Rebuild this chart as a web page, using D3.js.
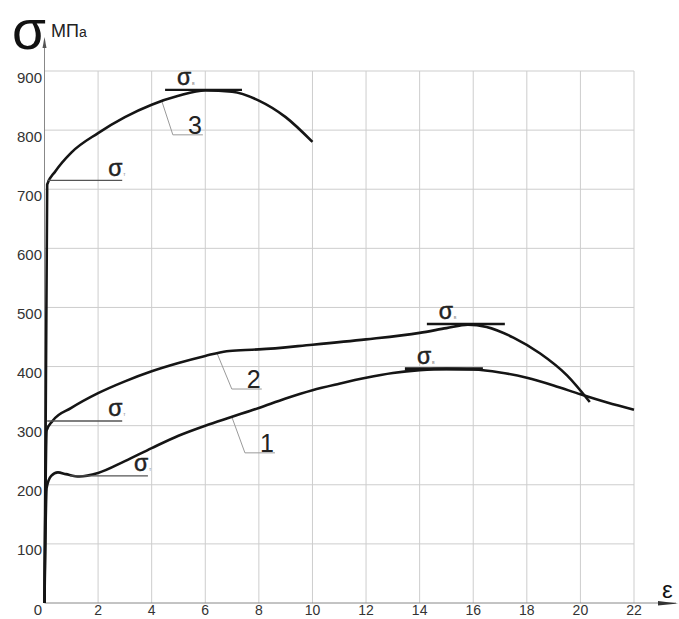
<!DOCTYPE html>
<html>
<head>
<meta charset="utf-8">
<script src="https://cdn.jsdelivr.net/npm/d3@7"></script>
<style>
  body { margin: 0; background: #fff; }
  svg { display: block; font-family: Arial, "Liberation Sans", sans-serif; }
</style>
</head>
<body>
<svg width="679" height="619"></svg>
<script>
// strain, % / stress, MPa
const curve1 = [[0,0],[0.08,195],[0.25,215],[0.5,221],[0.8,218],[1.3,214],[2,220],[3,240],[4,262],[5,283],[6,300],[7,315],[8,330],[9,346],[10,360],[11,371],[12,381],[13,389],[14,394],[15,396],[16,395],[17,390],[18,381],[19,368],[20,353],[21,339],[22,327]];
const curve2 = [[0,0],[0.08,292],[0.3,308],[1,330],[2,355],[3,375],[4,392],[5,406],[6,418],[6.8,426],[7.5,428],[8,429],[10,437],[12,446],[14,457],[15,465],[15.8,471],[16.5,467],[17.5,449],[18.5,422],[19.5,385],[20.35,340]];
const curve3 = [[0,0],[0.1,708],[0.4,730],[1,762],[2,795],[3,822],[4,843],[5,858],[6,867],[7,865],[8,850],[9,822],[10,780]];

const xTicks = [2,4,6,8,10,12,14,16,18,20,22];
const yTicks = [0,100,200,300,400,500,600,700,800,900];

// yield level (sigma_t) and ultimate level (sigma_v) marks: [sigma, eps from, eps to]
const yieldMarks = [[715,0.1,2.9],[308,0.1,2.9],[215,0.95,3.86]];
const ultimateMarks = [[868,4.5,7.37],[472,14.27,17.18],[396,13.45,16.36]];
// curve number leaders: name, eps on curve, elbow eps, elbow sigma, end eps
const curveLabels = [['3',4.38,4.79,792,5.91],['2',6.44,6.99,362,8.11],['1',6.99,7.48,254,8.6]];

const svg = d3.select('svg');
const x = d3.scaleLinear().domain([0,22]).range([44.5,634]);
const y = d3.scaleLinear().domain([0,900]).range([603,71]);

// grid
svg.append('g').selectAll('line').data(xTicks).join('line')
  .attr('x1', d => x(d)).attr('x2', d => x(d))
  .attr('y1', y(0)).attr('y2', y(900))
  .attr('stroke', '#cdcdcd').attr('stroke-width', 1);
svg.append('g').selectAll('line').data(yTicks.slice(1)).join('line')
  .attr('x1', x(0)).attr('x2', x(22))
  .attr('y1', d => y(d)).attr('y2', d => y(d))
  .attr('stroke', '#cdcdcd').attr('stroke-width', 1);

// axes with arrows
svg.append('line').attr('x1', x(0)).attr('x2', 676).attr('y1', y(0)).attr('y2', y(0))
  .attr('stroke', '#888').attr('stroke-width', 1);
svg.append('path').attr('d', 'M658,601 L678,603.5 L658,605.5 Z').attr('fill', '#333');
svg.append('line').attr('x1', x(0)).attr('x2', x(0)).attr('y1', y(0)).attr('y2', 40)
  .attr('stroke', '#888').attr('stroke-width', 1);
svg.append('path').attr('d', `M${x(0)-2},48 L${x(0)},37 L${x(0)+2},48 Z`).attr('fill', '#555');

// tick labels
svg.append('g').selectAll('text').data(yTicks).join('text')
  .attr('x', 42).attr('y', d => y(d) + 11.5)
  .attr('text-anchor', 'end').attr('font-size', 15).attr('fill', '#333')
  .text(d => d);
svg.append('g').selectAll('text').data(xTicks).join('text')
  .attr('x', d => x(d)).attr('y', 615)
  .attr('text-anchor', 'middle').attr('font-size', 14).attr('fill', '#333')
  .text(d => d);

// axis titles
svg.append('text').attr('x', 12).attr('y', 49).attr('font-size', 55).attr('fill', '#111').text('σ');
const unit = svg.append('text').attr('x', 51).attr('y', 37).attr('font-size', 18).attr('fill', '#222');
unit.append('tspan').text('МП');
unit.append('tspan').attr('font-size', 14).text('а');
svg.append('text').attr('x', 662).attr('y', 598).attr('font-size', 24).attr('fill', '#111').text('ε');

// curve number leaders
const line = d3.line().x(d => x(d[0])).y(d => y(d[1])).curve(d3.curveMonotoneX);
const curves = { '1': curve1, '2': curve2, '3': curve3 };
const sigmaAt = (c, e) => {
  const i = d3.bisector(d => d[0]).left(c, e);
  const a = c[i - 1], b = c[i];
  return a[1] + (b[1] - a[1]) * (e - a[0]) / (b[0] - a[0]);
};
curveLabels.forEach(([name, e0, e1, s1, e2]) => {
  const s0 = sigmaAt(curves[name], e0);
  svg.append('path')
    .attr('d', `M${x(e0)},${y(s0)} L${x(e1)},${y(s1)} L${x(e2)},${y(s1)}`)
    .attr('fill', 'none').attr('stroke', '#9a9a9a').attr('stroke-width', 1);
  svg.append('text').attr('x', x(e2) - 8).attr('y', y(s1) - 1)
    .attr('text-anchor', 'middle').attr('font-size', 25).attr('fill', '#222').text(name);
});

// curves
svg.append('g').selectAll('path').data([curve1, curve2, curve3]).join('path')
  .attr('d', line)
  .attr('fill', 'none').attr('stroke', '#151515').attr('stroke-width', 2.6)
  .attr('stroke-linejoin', 'round');

// yield marks
yieldMarks.forEach(([s, e0, e1]) => {
  svg.append('line').attr('x1', x(e0)).attr('x2', x(e1)).attr('y1', y(s)).attr('y2', y(s))
    .attr('stroke', '#555').attr('stroke-width', 1.4);
  svg.append('text').attr('x', x(e1) - 14).attr('y', y(s) - 4.5)
    .attr('font-size', 23).attr('fill', '#222').attr('stroke', '#222').attr('stroke-width', 0.5).text('σ');
  svg.append('text').attr('x', x(e1) + 1).attr('y', y(s) - 4.5)
    .attr('font-size', 5).attr('fill', '#888').text('т');
});

// ultimate marks
ultimateMarks.forEach(([s, e0, e1], i) => {
  svg.append('line').attr('x1', x(e0)).attr('x2', x(e1)).attr('y1', y(s)).attr('y2', y(s))
    .attr('stroke', '#151515').attr('stroke-width', i === 2 ? 3.4 : 2.4);
  svg.append('text').attr('x', x(e0) + 12).attr('y', y(s) - 5)
    .attr('font-size', 23).attr('fill', '#222').attr('stroke', '#222').attr('stroke-width', 0.5).text('σ');
  svg.append('text').attr('x', x(e0) + 27).attr('y', y(s) - 5)
    .attr('font-size', 5).attr('fill', '#888').text('в');
});
</script>
</body>
</html>
